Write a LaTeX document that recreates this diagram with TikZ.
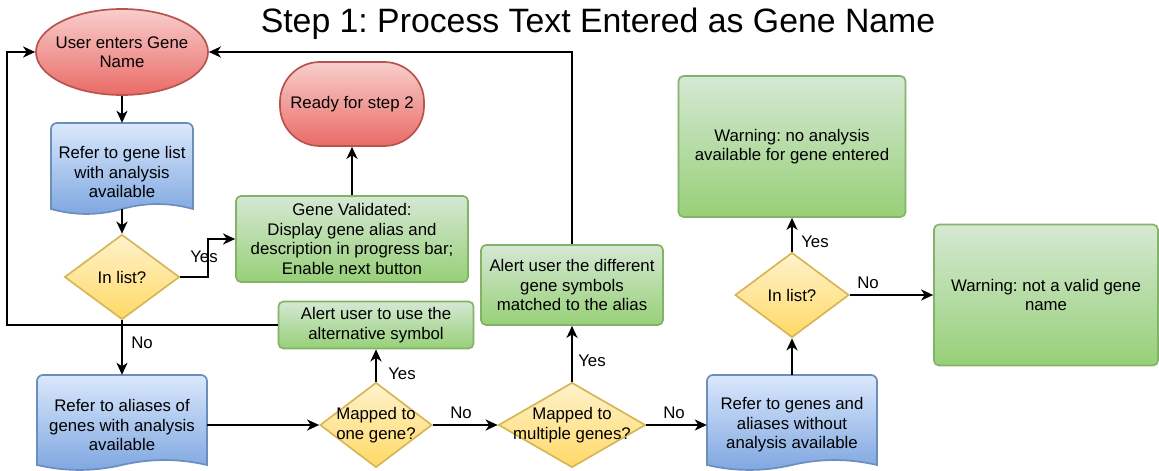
\documentclass[tikz,border=0pt]{standalone}
\usepackage{fontspec}
\setmainfont{Liberation Sans}
\usetikzlibrary{arrows.meta,shapes.geometric}
\frenchspacing
\definecolor{redT}{HTML}{F8CECC}
\definecolor{redB}{HTML}{EA6B66}
\definecolor{redS}{HTML}{B85450}
\definecolor{blueT}{HTML}{DAE8FC}
\definecolor{blueB}{HTML}{7EA6E0}
\definecolor{blueS}{HTML}{6C8EBF}
\definecolor{greenT}{HTML}{D5E8D4}
\definecolor{greenB}{HTML}{97D077}
\definecolor{greenS}{HTML}{82B366}
\definecolor{yelT}{HTML}{FFF2CC}
\definecolor{yelB}{HTML}{FFD966}
\definecolor{yelS}{HTML}{D6B656}
\newcommand\mydoc[5]{% L R T B dy
  \path[docstyle] (#1,#4) -- (#1,{#3+6}) .. controls (#1,{#3+2.7}) and ({#1+2.7},#3) .. ({#1+6},#3)
    -- ({#2-6},#3) .. controls ({#2-2.7},#3) and (#2,{#3+2.7}) .. (#2,{#3+6})
    -- (#2,#4) .. controls ({#2-(#2-#1)/6},{#4-0.6*#5}) and ({#1+2*(#2-#1)/3},{#4-0.6*#5}) .. ({(#1+#2)/2},#4)
    .. controls ({#1+(#2-#1)/3},{#4+0.6*#5}) and ({#1+(#2-#1)/6},{#4+0.6*#5}) .. (#1,#4) -- cycle;}
\begin{document}
\frenchspacing
\begin{tikzpicture}[x=1pt,y=-1pt,
  txt/.style={font=\fontsize{16.8}{19.5}\selectfont, align=center, inner sep=0pt, text=black},
  redshape/.style={draw=redS, top color=redT, bottom color=redB, line width=1.7pt},
  docstyle/.style={draw=blueS, top color=blueT, bottom color=blueB, line width=1.7pt},
  docbox/.style={draw=none, inner sep=0pt},
  greenbox/.style={txt, rectangle, rounded corners=5pt, draw=greenS, top color=greenT, bottom color=greenB, line width=1.7pt},
  dia/.style={shape=diamond, inner sep=0pt, draw=yelS, top color=yelT, bottom color=yelB, line width=1.7pt},
  conn/.style={line width=1.8pt, draw=black, -{Stealth[length=12pt,width=11pt,inset=3.5pt]}}
]
\useasboundingbox (0,0) rectangle (1159,471);

% title
\node[font=\fontsize{33.8}{40}\selectfont, anchor=base, inner sep=0pt] (title) at (598,32) {Step 1: Process Text Entered as Gene Name};

% start ellipse
\node[redshape, shape=ellipse, minimum width=172pt, minimum height=86pt, inner sep=0pt] (E) at (122,52) {};
\node[txt] (Et) at (122,52) {User enters Gene\\Name};

% ready for step 2
\node[redshape, txt, rectangle, rounded corners=40pt, minimum width=144pt, minimum height=84pt] (RS) at (352,104) {Ready for step 2};

% documents
\mydoc{51}{193}{123}{209}{11}
\node[docbox, minimum width=142pt, minimum height=86pt] (D1) at (122,166) {};
\node[txt] (D1t) at (122,172) {Refer to gene list\\with analysis\\available};

\mydoc{37}{207}{375}{465}{11}
\node[docbox, minimum width=170pt, minimum height=90pt] (D2) at (122,420) {};
\node[txt] (D2t) at (122,425) {Refer to aliases of\\genes with analysis\\available};

\mydoc{707}{877}{375}{465}{11}
\node[docbox, minimum width=170pt, minimum height=90pt] (D3) at (792,420) {};
\node[txt] (D3t) at (792,425) {Refer to genes and\\aliases without\\analysis available};

% diamonds
\node[dia, minimum width=115pt, minimum height=85pt] (I1) at (122,277) {};
\node[txt] (I1t) at (122,277) {In list?};
\node[dia, minimum width=112pt, minimum height=85pt] (M1) at (376,425) {};
\node[txt] (M1t) at (376,425) {Mapped to\\one gene?};
\node[dia, minimum width=147pt, minimum height=85pt] (M2) at (572,425) {};
\node[txt] (M2t) at (572,425) {Mapped to\\multiple genes?};
\node[dia, minimum width=114pt, minimum height=85pt] (I2) at (792,295) {};
\node[txt] (I2t) at (792,295) {In list?};

% green boxes
\node[greenbox, minimum width=232pt, minimum height=86pt] (GV) at (352,239) {Gene Validated:\\Display gene alias and\\description in progress bar;\\Enable next button};
\node[greenbox, minimum width=195pt, minimum height=47pt] (A1) at (376,325) {Alert user to use the\\alternative symbol};
\node[greenbox, minimum width=182pt, minimum height=80pt] (A2) at (572,285) {Alert user the different\\gene symbols\\matched to the alias};
\node[greenbox, minimum width=227pt, minimum height=141pt] (W1) at (792,146.5) {Warning: no analysis\\available for gene entered};
\node[greenbox, minimum width=224pt, minimum height=141pt] (W2) at (1046,295) {Warning: not a valid gene\\name};

% connectors
\draw[conn] (E.south) -- (D1.north);
\draw[conn] (D1.south) -- (I1.north);
\draw[conn] (I1.east) -- ++(28,0) |- (GV.west);
\draw[conn] (GV.north) -- (RS.south);
\draw[conn] (I1.south) -- (D2.north);
\draw[conn] (M1.west -| D2.east) -- (M1.west);
\draw[conn] (M1.north) -- (A1.south);
\draw[conn] (A1.west) -| ([xshift=-28pt]E.west) -- (E.west);
\draw[conn] (M1.east) -- (M2.west);
\draw[conn] (M2.north) -- (A2.south);
\draw[conn] (A2.north) |- (E.east);
\draw[conn] (M2.east) -- (M2.east -| D3.west);
\draw[conn] (D3.north) -- (I2.south);
\draw[conn] (I2.north) -- (W1.south);
\draw[conn] (I2.east) -- (W2.west);

% labels
\node[txt] (l1) at (204,257) {Yes};
\node[txt] (l2) at (142,343) {No};
\node[txt] (l3) at (402,374) {Yes};
\node[txt] (l4) at (461,413) {No};
\node[txt] (l5) at (592,361) {Yes};
\node[txt] (l6) at (674,413) {No};
\node[txt] (l7) at (815,242) {Yes};
\node[txt] (l8) at (868,283) {No};
\end{tikzpicture}
\end{document}
